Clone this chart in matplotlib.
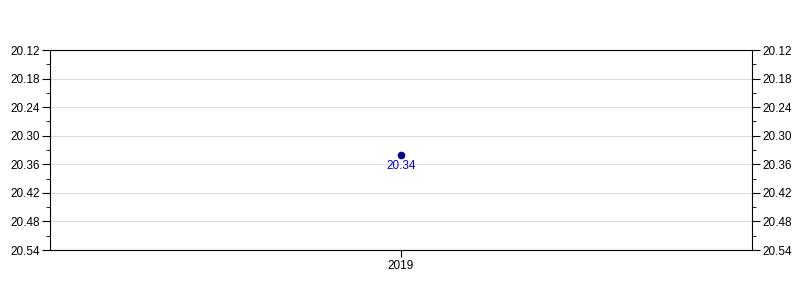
import matplotlib
matplotlib.use("Agg")
import matplotlib.pyplot as plt
from matplotlib.ticker import FormatStrFormatter

plt.rcParams['font.family'] = ['Liberation Sans', 'DejaVu Sans']

years = ["2019"]
values = [20.34]
labels = ["20.34"]
y_ticks = [20.12, 20.18, 20.24, 20.30, 20.36, 20.42, 20.48, 20.54]
y_minor = [20.15, 20.21, 20.27, 20.33, 20.39, 20.45, 20.51]

fig = plt.figure(figsize=(8, 3), dpi=100)
ax = fig.add_axes([50/800, 50/300, 702/800, 200/300])

x = list(range(len(years)))
ax.plot(x, values, 'o', color='#000080', markeredgecolor='#0000aa', markersize=4.5, zorder=3)
for xi, v, lab in zip(x, values, labels):
    ax.annotate(lab, (xi, v), xytext=(0, -3.5), textcoords='offset points',
                ha='center', va='top', fontsize=8.5, color='#0000cc')

ax.set_xlim(-0.5, 0.5)
ax.set_xticks(x)
ax.set_xticklabels(years, fontsize=8.5)
ax.set_ylim(20.54, 20.12)
ax.set_yticks(y_ticks)
ax.set_yticks(y_minor, minor=True)
ax.yaxis.set_major_formatter(FormatStrFormatter('%.2f'))
ax.tick_params(axis='y', which='both', left=True, right=True, labelleft=True, labelright=True, labelsize=8.5, direction='out')
ax.tick_params(axis='y', which='major', length=6, pad=1.5)
ax.tick_params(axis='y', which='minor', length=3)
ax.tick_params(axis='x', length=5, direction='out', pad=2.5)
ax.grid(axis='y', which='major', color='#dddddd', linewidth=0.8)
ax.set_axisbelow(True)
for s in ax.spines.values():
    s.set_color('black')
    s.set_linewidth(0.8)

fig.savefig('out.png', dpi=100)
